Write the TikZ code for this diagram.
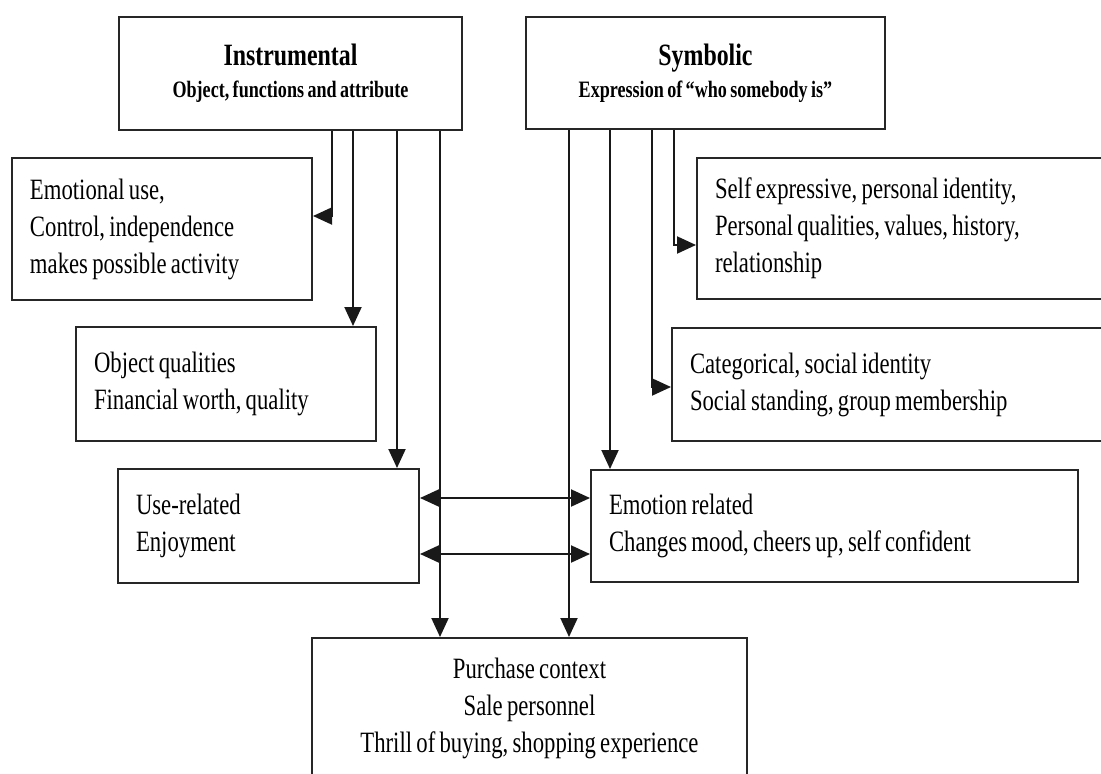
\documentclass[tikz,border=0pt]{standalone}
\usepackage{fontspec}
\setmainfont{Liberation Serif}[FakeStretch=0.77, WordSpace=0.75]
\usetikzlibrary{arrows.meta,calc}

\begin{document}
\begin{tikzpicture}[x=1pt,y=-1pt,
  frame/.style={draw=black!85, line width=2pt, fill=white},
  box/.style={frame, inner ysep=0pt, inner xsep=18pt, align=flush left,
    font=\fontsize{29.5}{37}\selectfont},
  headbox/.style={frame, inner sep=0pt, align=center,
    font=\bfseries\fontsize{23.5}{32}\selectfont},
  tip/.tip={Triangle[length=19pt,width=17pt]},
  conn/.style={line width=2pt, black!90, -tip},
  bothways/.style={line width=2pt, black!90, tip-tip}]

\useasboundingbox (0,0) rectangle (1101,774);
\fill[white] (0,0) rectangle (1101,774);
\clip (0,0) rectangle (1101,774);

% top level categories
\node[headbox, minimum width=343pt, minimum height=113pt] (instr) at (290.5,73.5)
  {{\fontsize{31}{32}\selectfont Instrumental}\\Object, functions and attribute};
\node[headbox, minimum width=359pt, minimum height=112pt] (symb) at (705.5,73)
  {{\fontsize{31}{32}\selectfont Symbolic}\\Expression of “who somebody is”};

% instrumental branch
\node[box, text width=264pt, minimum width=300pt, minimum height=142pt] (emo) at (162,229)
  {Emotional use,\\Control, independence\\makes possible activity};
\node[box, text width=264pt, minimum width=300pt, minimum height=114pt] (objq) at (226,384)
  {Object qualities\\Financial worth, quality};
\node[box, text width=265pt, minimum width=301pt, minimum height=114pt] (user) at (268.5,526)
  {Use-related\\Enjoyment};

% symbolic branch
\node[box, text width=394pt, minimum width=430pt, minimum height=141pt] (selfx) at (912,228.5)
  {Self expressive, personal identity,\\Personal qualities, values, history,\\relationship};
\node[box, text width=419pt, minimum width=455pt, minimum height=113pt] (categ) at (899.5,384.5)
  {Categorical, social identity\\Social standing, group membership};
\node[box, text width=451pt, minimum width=487pt, minimum height=112pt] (emor) at (834.5,526)
  {Emotion related\\Changes mood, cheers up, self confident};

% shared purchase context
\node[box, align=flush center, text width=399pt, minimum width=435pt, minimum height=140pt] (purch) at (529.5,708)
  {Purchase context\\Sale personnel\\Thrill of buying, shopping experience};

% connector origins along the bottom edges of the top boxes
\coordinate (i1) at ($(instr.south west)+(214,0)$);
\coordinate (i2) at ($(instr.south west)+(235,0)$);
\coordinate (i3) at ($(instr.south west)+(279,0)$);
\coordinate (i4) at ($(instr.south west)+(322,0)$);
\coordinate (s1) at ($(symb.south west)+(44,0)$);
\coordinate (s2) at ($(symb.south west)+(85,0)$);
\coordinate (s3) at ($(symb.south west)+(127,0)$);
\coordinate (s4) at ($(symb.south west)+(149,0)$);

% connectors
\draw[conn] (i1) |- ($(emo.east)+(0,-13)$);
\draw[conn] (i2) -- (i2 |- objq.north);
\draw[conn] (i3) -- (i3 |- user.north);
\draw[conn] (i4) -- (i4 |- purch.north);
\draw[conn] (s1) -- (s1 |- purch.north);
\draw[conn] (s2) -- (s2 |- emor.north);
\draw[conn] (s3) |- ($(categ.west)+(0,2.5)$);
\draw[conn] (s4) |- ($(selfx.west)+(0,16.5)$);
\draw[bothways] ($(user.east)+(0,-28)$) -- ($(emor.west)+(0,-28)$);
\draw[bothways] ($(user.east)+(0,28)$) -- ($(emor.west)+(0,28)$);

\end{tikzpicture}
\end{document}
